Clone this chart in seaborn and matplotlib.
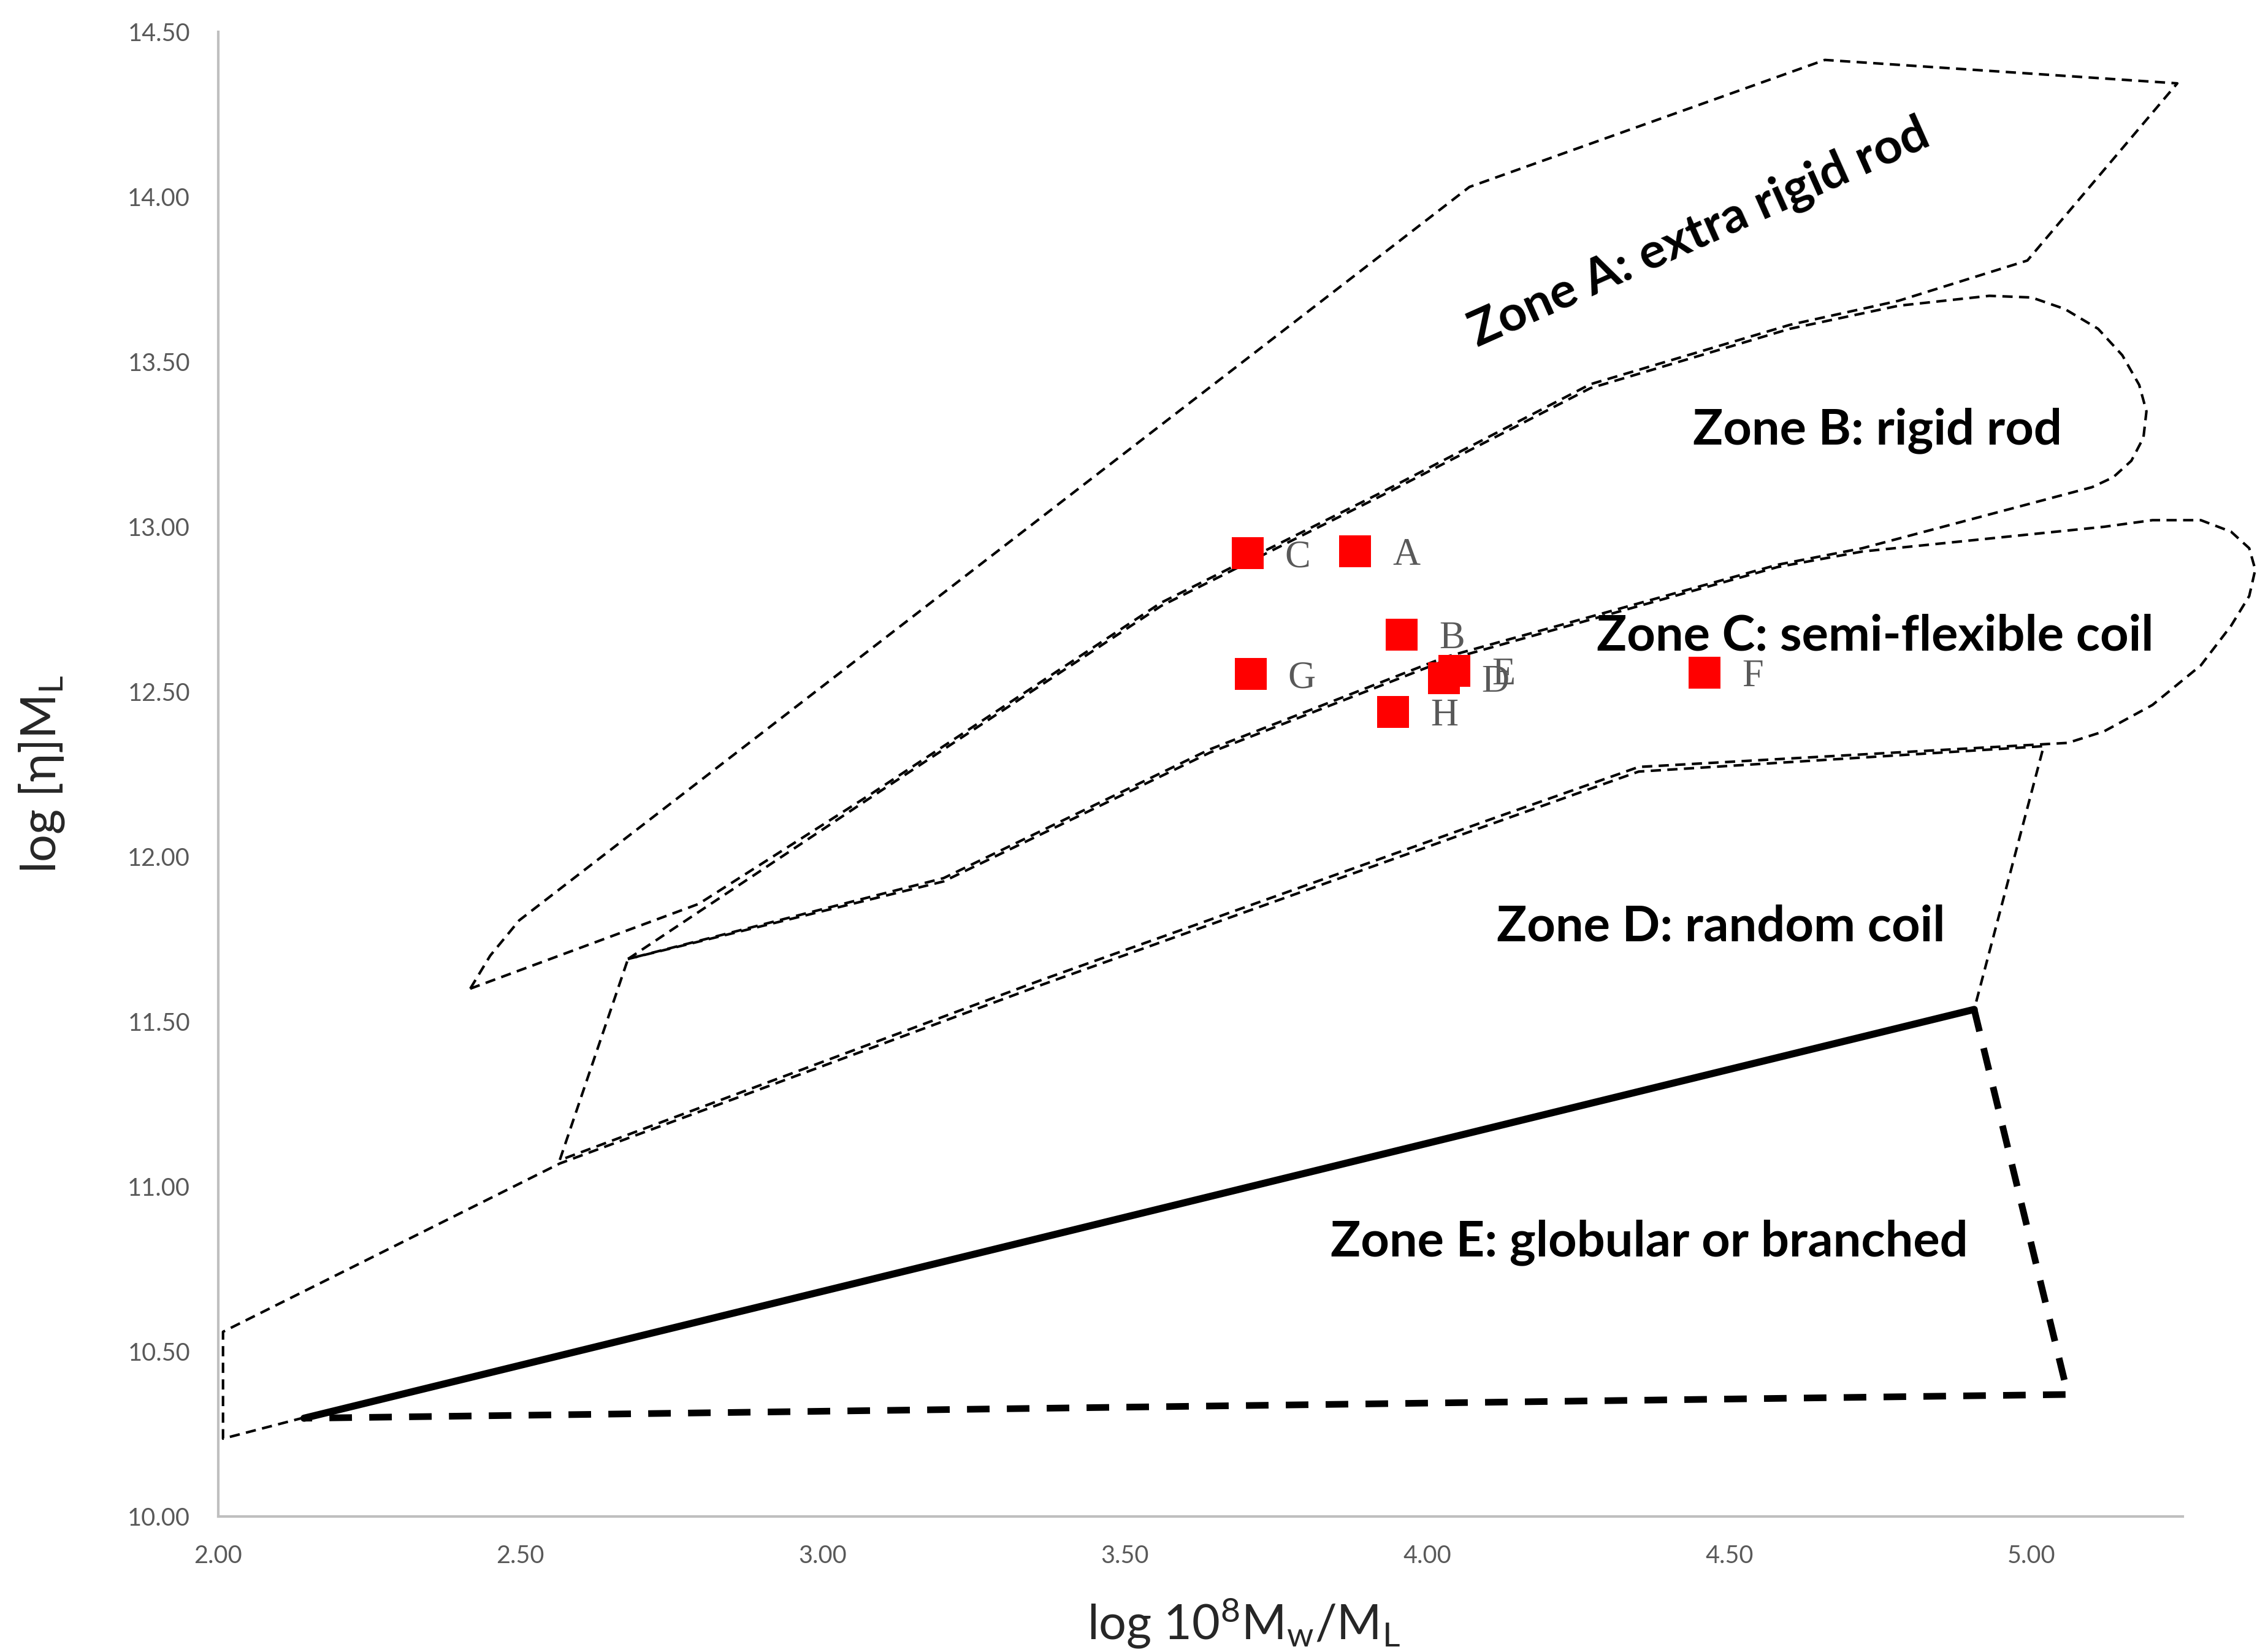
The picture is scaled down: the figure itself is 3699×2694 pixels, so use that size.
import matplotlib
matplotlib.use("Agg")
import matplotlib.pyplot as plt
import seaborn as sns
import pandas as pd

# samples (red squares)
sample_names = ["A", "B", "C", "D", "E", "F", "G", "H"]
log_mw_ml = [3.881, 3.958, 3.703, 4.028, 4.045, 4.459, 3.708, 3.944]
log_eta_ml = [12.925, 12.673, 12.920, 12.541, 12.563, 12.558, 12.554, 12.439]

# zone outlines
zoneA_x = [2.417, 2.45, 2.498, 4.07, 4.658, 5.241, 4.993, 4.78, 4.60, 4.27, 3.92, 3.56, 3.08, 2.795, 2.417]
zoneA_y = [11.60, 11.70, 11.807, 14.03, 14.415, 14.344, 13.807, 13.685, 13.612, 13.432, 13.10, 12.77, 12.19, 11.857, 11.60]

zoneB_x = [2.678, 3.08, 3.56, 3.92, 4.27, 4.60, 4.78, 4.93, 5.00, 5.055, 5.11, 5.15, 5.178, 5.19, 5.185,
           5.165, 5.135, 5.10, 4.72, 4.58, 4.03, 3.64, 3.20, 2.678]
zoneB_y = [11.69, 12.18, 12.76, 13.09, 13.42, 13.60, 13.67, 13.70, 13.695, 13.66, 13.60, 13.52, 13.43, 13.35, 13.27,
           13.20, 13.15, 13.12, 12.935, 12.885, 12.605, 12.325, 11.935, 11.69]

zoneC_x = [2.678, 3.20, 3.64, 4.03, 4.58, 4.72, 5.12, 5.20, 5.28, 5.33, 5.36, 5.37, 5.36, 5.33, 5.28, 5.20, 5.12, 5.06,
           4.35, 4.10, 3.36, 2.565, 2.678]
zoneC_y = [11.69, 11.925, 12.315, 12.595, 12.878, 12.925, 13.0, 13.02, 13.02, 12.985, 12.935, 12.87, 12.79, 12.70,
           12.58, 12.46, 12.38, 12.345, 12.272, 12.11, 11.625, 11.08, 11.69]

zoneD_x = [2.142, 2.008, 2.008, 2.565, 3.36, 4.10, 4.35, 5.02, 4.905]
zoneD_y = [10.30, 10.236, 10.56, 11.07, 11.61, 12.095, 12.258, 12.335, 11.537]

zoneE_top_x = [2.142, 4.905]
zoneE_top_y = [10.298, 11.537]
zoneE_edge_x = [4.905, 5.06, 2.142]
zoneE_edge_y = [11.537, 10.37, 10.298]

x_ticks = [2.0, 2.5, 3.0, 3.5, 4.0, 4.5, 5.0]
y_ticks = [10.0, 10.5, 11.0, 11.5, 12.0, 12.5, 13.0, 13.5, 14.0, 14.5]

sns.set_style("white")
plt.rcParams["font.family"] = ["Lato", "DejaVu Sans"]
plt.rcParams["mathtext.fontset"] = "custom"
plt.rcParams["mathtext.rm"] = "Lato"
plt.rcParams["mathtext.it"] = "Lato:italic"

fig = plt.figure(figsize=(12.33, 8.98), dpi=300)
ax = fig.add_axes([0.0962, 0.0820, 0.8662, 0.8987])

thin = dict(color="black", lw=1.0, linestyle=(0, (4, 2.5)))
thick_dash = dict(color="black", lw=2.6, linestyle=(0, (3.4, 2.6)))

for xs, ys in [(zoneA_x, zoneA_y), (zoneB_x, zoneB_y), (zoneC_x, zoneC_y), (zoneD_x, zoneD_y)]:
    sns.lineplot(x=xs, y=ys, sort=False, estimator=None, errorbar=None,
                 ax=ax, clip_on=False, **thin)
sns.lineplot(x=zoneE_top_x, y=zoneE_top_y, sort=False, estimator=None, errorbar=None,
             ax=ax, color="black", lw=2.8, clip_on=False)
sns.lineplot(x=zoneE_edge_x, y=zoneE_edge_y, sort=False, estimator=None, errorbar=None,
             ax=ax, clip_on=False, **thick_dash)

df = pd.DataFrame({"x": log_mw_ml, "y": log_eta_ml, "name": sample_names})
sns.scatterplot(data=df, x="x", y="y", marker="s", s=155, color="#ff0000",
                linewidth=0, ax=ax, zorder=5)
for nm, xv, yv in zip(sample_names, log_mw_ml, log_eta_ml):
    ax.annotate(nm, (xv, yv), xytext=(14.6, -5.3), textcoords="offset points",
                ha="left", va="baseline", fontsize=15, color="#595959",
                family="Liberation Serif", zorder=6)

# zone labels
zkw = dict(fontsize=19.5, fontweight="bold", color="black")
ax.text(4.45, 13.89, "Zone A: extra rigid rod", rotation=24, rotation_mode="anchor",
        ha="center", va="center", **zkw)
ax.text(4.44, 13.25, "Zone B: rigid rod", ha="left", va="baseline", **zkw)
ax.text(4.28, 12.625, "Zone C: semi-flexible coil", ha="left", va="baseline", **zkw)
ax.text(4.115, 11.745, "Zone D: random coil", ha="left", va="baseline", **zkw)
ax.text(3.84, 10.79, "Zone E: globular or branched", ha="left", va="baseline", **zkw)

ax.set_xlim(2.0, 5.25)
ax.set_ylim(10.0, 14.5)
ax.set_xticks(x_ticks)
ax.set_yticks(y_ticks)
ax.set_xticklabels([f"{v:.2f}" for v in x_ticks])
ax.set_yticklabels([f"{v:.2f}" for v in y_ticks])
ax.tick_params(length=0, labelsize=9.5, labelcolor="#595959", pad=11)

ax.set_xlabel(r"log 10$^{8}$M$_{\mathrm{w}}$/M$_{\mathrm{L}}$", fontsize=19)
ax.set_ylabel(r"log [$\mathrm{\eta}$]M$_{\mathrm{L}}$", fontsize=19)
ax.xaxis.set_label_coords(0.522, -0.0537)
ax.yaxis.set_label_coords(-0.077, 0.5)

for side in ["top", "right"]:
    ax.spines[side].set_visible(False)
for side in ["left", "bottom"]:
    ax.spines[side].set_color("#bfbfbf")
    ax.spines[side].set_linewidth(1.0)

fig.savefig("out.png", dpi=300)
